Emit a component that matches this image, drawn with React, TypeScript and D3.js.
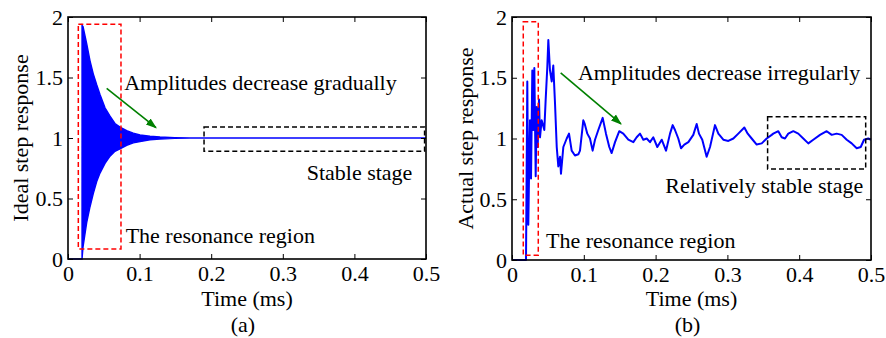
import React, { useEffect, useRef } from "react";
import * as d3 from "d3";

const W = 886;
const H = 338;
const FONT = "'Liberation Serif', 'Times New Roman', Times, serif";
const FS = 22;

const xTicks = [0, 0.1, 0.2, 0.3, 0.4, 0.5];
const yTicks = [0, 0.5, 1, 1.5, 2];

// ideal response, drawn as its oscillation envelope
const idealTime = [0, 0.0196, 0.0196, 0.021, 0.0261, 0.0307, 0.0353, 0.0401, 0.0447, 0.0517, 0.0587, 0.0656, 0.0726, 0.082, 0.0912, 0.1006, 0.1145, 0.1285, 0.149, 0.17, 0.5];
const idealUpper = [0, 0, 1.93, 1.92, 1.78, 1.64, 1.53, 1.44, 1.36, 1.25, 1.18, 1.12, 1.09, 1.06, 1.04, 1.025, 1.015, 1.008, 1.003, 1.0, 1.0];
const idealLower = [0, 0, 0, 0.1, 0.3, 0.43, 0.54, 0.64, 0.71, 0.79, 0.85, 0.89, 0.91, 0.94, 0.96, 0.97, 0.985, 0.992, 0.997, 1.0, 1.0];

// measured response
const actualTime = [
  0, 0.0195, 0.0213, 0.0227, 0.0237, 0.0251, 0.0265, 0.0283, 0.0297, 0.0311, 0.033, 0.0344, 0.0358, 0.0376, 0.039,
  0.0413, 0.045, 0.0469, 0.0492, 0.0506, 0.0529, 0.0553, 0.0575, 0.0599, 0.0623, 0.0645, 0.0669, 0.0682, 0.0715,
  0.0762, 0.0794, 0.0831, 0.0877, 0.0924, 0.0947, 0.0993, 0.1013, 0.1049, 0.1086, 0.1123, 0.1156, 0.1202, 0.1263,
  0.1309, 0.1355, 0.1388, 0.1435, 0.1494, 0.155, 0.162, 0.169, 0.1736, 0.1783, 0.1829, 0.1876, 0.1922, 0.1968,
  0.2024, 0.2085, 0.2145, 0.2201, 0.2238, 0.227, 0.2316, 0.2354, 0.24, 0.2456, 0.2525, 0.2572, 0.2604, 0.265,
  0.2711, 0.2758, 0.2827, 0.2874, 0.2943, 0.3013, 0.3083, 0.3152, 0.3236, 0.3283, 0.3338, 0.3408, 0.3478, 0.3547,
  0.3617, 0.3639, 0.3709, 0.3756, 0.3802, 0.3848, 0.3918, 0.3987, 0.4057, 0.4127, 0.4196, 0.429, 0.4383, 0.4453,
  0.4522, 0.4592, 0.4662, 0.4731, 0.4801, 0.4857, 0.4903, 0.4962, 0.5,
];
const actualValue = [
  0, 0, 1.47, 0.29, 0.69, 1.15, 0.67, 1.56, 1.07, 1.58, 0.69, 1.26, 0.93, 1.32, 1.01,
  1.15, 1.07, 1.32, 1.59, 1.81, 1.56, 1.47, 1.6, 1.29, 0.93, 0.77, 0.85, 0.71, 0.93,
  1.0, 1.04, 0.9, 0.86, 0.87, 0.9, 1.15, 1.12, 1.04, 1.0, 0.9, 0.99, 1.07, 1.17,
  1.04, 0.93, 0.88, 0.97, 1.06, 1.04, 0.99, 0.97, 1.01, 1.04, 0.99, 1.0, 0.97, 1.01,
  0.93, 0.99, 0.9, 1.04, 1.11, 1.07, 1.0, 0.92, 0.95, 0.97, 1.03, 1.12, 1.04, 0.99,
  0.85, 0.93, 1.11, 1.04, 0.99, 0.98, 1.0, 1.04, 1.09, 1.04, 1.0, 0.95, 0.96, 1.0,
  1.03, 1.04, 1.06, 1.01, 1.0, 1.04, 1.06, 1.04, 1.0, 0.96, 0.99, 1.03, 1.06, 1.03,
  1.04, 1.03, 0.99, 0.96, 0.92, 0.93, 0.99, 1.0, 0.99,
];

type Box = [number, number, number, number]; // t0, t1, v0, v1

const panels = [
  {
    left: 68, right: 426, top: 17, bottom: 259,
    ylabel: "Ideal step response", ylabelX: 20, tag: "(a)",
    redBox: [0.0144, 0.074, 0.083, 1.94] as Box,
    blackBox: [0.19, 0.498, 0.89, 1.09] as Box,
    arrow: [0.054, 1.41, 0.1229, 1.085],
    notes: [
      { text: "Amplitudes decrease gradually", t: 0.0785, v: 1.4, anchor: "start" },
      { text: "Stable stage", t: 0.481, v: 0.65, anchor: "end" },
      { text: "The resonance region", t: 0.0805, v: 0.13, anchor: "start" },
    ],
  },
  {
    left: 512, right: 871, top: 17, bottom: 260,
    ylabel: "Actual step response", ylabelX: 465, tag: "(b)",
    redBox: [0.0157, 0.0366, 0.04, 1.96] as Box,
    blackBox: [0.356, 0.4926, 0.75, 1.18] as Box,
    arrow: [0.0678, 1.54, 0.1518, 1.12],
    notes: [
      { text: "Amplitudes decrease irregularly", t: 0.0918, v: 1.48, anchor: "start" },
      { text: "Relatively stable stage", t: 0.4892, v: 0.55, anchor: "end" },
      { text: "The resonance region", t: 0.0474, v: 0.1, anchor: "start" },
    ],
  },
];

const App = () => {
  const ref = useRef<SVGSVGElement>(null);

  useEffect(() => {
    const svg = d3.select(ref.current);
    svg.selectAll("*").remove();

    const defs = svg.append("defs");
    defs.append("marker")
      .attr("id", "arrowhead")
      .attr("viewBox", "0 0 10 10")
      .attr("refX", 9).attr("refY", 5)
      .attr("markerWidth", 11).attr("markerHeight", 11)
      .attr("markerUnits", "userSpaceOnUse")
      .attr("orient", "auto")
      .append("path")
      .attr("d", "M0,1.5 L10,5 L0,8.5 Z")
      .attr("fill", "#008000");

    panels.forEach((p, i) => {
      const x = d3.scaleLinear().domain([0, 0.5]).range([p.left, p.right]);
      const y = d3.scaleLinear().domain([0, 2]).range([p.bottom, p.top]);
      const g = svg.append("g");

      // data
      if (i === 0) {
        const rows = idealTime.map((t, k) => ({ t, hi: idealUpper[k], lo: idealLower[k] }));
        const area = d3.area<any>().x((d) => x(d.t)).y0((d) => y(d.lo)).y1((d) => y(d.hi));
        g.append("path").attr("d", area(rows))
          .attr("fill", "#0000ff").attr("stroke", "#0000ff").attr("stroke-width", 1.4);
      } else {
        const rows = actualTime.map((t, k) => ({ t, v: actualValue[k] }));
        const line = d3.line<any>().x((d) => x(d.t)).y((d) => y(d.v));
        g.append("path").attr("d", line(rows))
          .attr("fill", "none").attr("stroke", "#0000ff").attr("stroke-width", 2)
          .attr("stroke-linejoin", "round");
      }

      // axes, inward ticks on all sides
      const fmt = d3.format("~g");
      const styleAxis = (sel: any) => {
        sel.select(".domain").remove();
        sel.selectAll("line").attr("stroke", "#000").attr("stroke-width", 1);
        sel.selectAll("text").attr("font-family", FONT).attr("font-size", FS).attr("fill", "#000");
      };
      g.append("g").attr("transform", `translate(0,${p.bottom})`)
        .call(d3.axisBottom(x).tickValues(xTicks).tickFormat(fmt as any).tickSize(-5).tickSizeOuter(0).tickPadding(6))
        .call(styleAxis);
      g.append("g").attr("transform", `translate(0,${p.top})`)
        .call(d3.axisTop(x).tickValues(xTicks).tickFormat(() => "").tickSize(-5).tickSizeOuter(0))
        .call(styleAxis);
      g.append("g").attr("transform", `translate(${p.left},0)`)
        .call(d3.axisLeft(y).tickValues(yTicks).tickFormat(fmt as any).tickSize(-5).tickSizeOuter(0).tickPadding(5))
        .call(styleAxis);
      g.append("g").attr("transform", `translate(${p.right},0)`)
        .call(d3.axisRight(y).tickValues(yTicks).tickFormat(() => "").tickSize(-5).tickSizeOuter(0))
        .call(styleAxis);

      g.append("rect")
        .attr("x", p.left).attr("y", p.top)
        .attr("width", p.right - p.left).attr("height", p.bottom - p.top)
        .attr("fill", "none").attr("stroke", "#000").attr("stroke-width", 1.6);

      // annotation boxes
      const drawBox = (b: Box, color: string) =>
        g.append("rect")
          .attr("x", x(b[0])).attr("y", y(b[3]))
          .attr("width", x(b[1]) - x(b[0])).attr("height", y(b[2]) - y(b[3]))
          .attr("fill", "none").attr("stroke", color).attr("stroke-width", 1.5)
          .attr("stroke-dasharray", "5,3");
      drawBox(p.redBox, "#ff0000");
      drawBox(p.blackBox, "#000000");

      g.append("line")
        .attr("x1", x(p.arrow[0])).attr("y1", y(p.arrow[1]))
        .attr("x2", x(p.arrow[2])).attr("y2", y(p.arrow[3]))
        .attr("stroke", "#008000").attr("stroke-width", 1.6)
        .attr("marker-end", "url(#arrowhead)");

      p.notes.forEach((n) => {
        g.append("text")
          .attr("x", x(n.t)).attr("y", y(n.v))
          .attr("text-anchor", n.anchor)
          .attr("font-family", FONT).attr("font-size", FS)
          .text(n.text);
      });

      // labels
      g.append("text")
        .attr("transform", `translate(${p.ylabelX},${(p.top + p.bottom) / 2}) rotate(-90)`)
        .attr("text-anchor", "middle").attr("dy", "0.35em")
        .attr("font-family", FONT).attr("font-size", FS)
        .text(p.ylabel);
      g.append("text")
        .attr("x", (p.left + p.right) / 2).attr("y", 306)
        .attr("text-anchor", "middle")
        .attr("font-family", FONT).attr("font-size", FS)
        .text("Time (ms)");
      g.append("text")
        .attr("x", (p.left + p.right) / 2 - 4).attr("y", 332)
        .attr("text-anchor", "middle")
        .attr("font-family", FONT).attr("font-size", FS)
        .text(p.tag);
    });
  }, []);

  return (
    <svg
      ref={ref}
      width={W}
      height={H}
      style={{ position: "absolute", left: 0, top: 0, background: "#fff" }}
    />
  );
};

export default App;
